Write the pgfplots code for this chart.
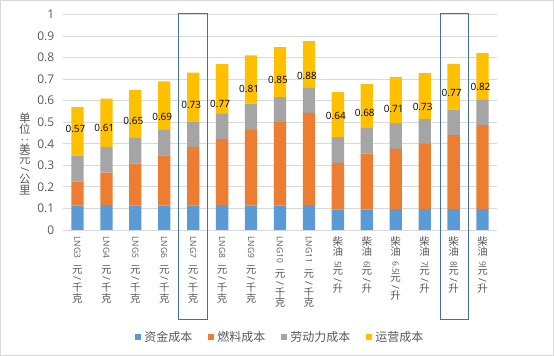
\documentclass[border=0pt]{standalone}
\usepackage{pgfplots}
\pgfplotsset{compat=1.18}
\usepackage{pgfplotstable}
\usepackage{graphicx}
\usepackage{fontspec}
\setmainfont{Open Sans}
\newfontfamily\cjk{Noto Sans CJK SC}
\definecolor{c1}{HTML}{5B9BD5}
\definecolor{c2}{HTML}{ED7D31}
\definecolor{c3}{HTML}{A5A5A5}
\definecolor{c4}{HTML}{FFC000}
\definecolor{gridc}{HTML}{D9D9D9}
\definecolor{txt}{HTML}{595959}
\definecolor{boxc}{HTML}{41719C}

\newcommand\vstack[1]{\vbox{\offinterlineskip\halign{\hfil##\hfil\cr#1\crcr}}}
\newcommand\zi[1]{\rule[-0.15em]{0pt}{0.87em}{\cjk #1}}
\newcommand\zj[1]{\rule[-0.17em]{0pt}{0.88em}{\cjk #1}}
\newcommand\rl[1]{\rotatebox{-90}{#1}}
\newcommand\rslash{\rotatebox{-90}{\hbox to 0.75em{\hss/\hss}}}
\newcommand\lat{\fontsize{8.5bp}{10bp}\selectfont}
\newcommand\lng[1]{{\fontsize{10.5bp}{12bp}\selectfont\vstack{\rl{\lat LNG#1\kern7bp}\cr\zj{元}\cr\rslash\cr\zj{千}\cr\zj{克}\cr}}}
\newcommand\cy[1]{{\fontsize{10.5bp}{12bp}\selectfont\vstack{\zj{柴}\cr\zj{油}\cr\rl{\lat\kern4bp #1}\cr\zj{元}\cr\rslash\cr\zj{升}\cr}}}

\pgfplotstableread{
x cap fuel labor ops
0 0.113 0.111 0.121 0.225
1 0.116 0.150 0.120 0.224
2 0.113 0.195 0.120 0.222
3 0.113 0.233 0.119 0.225
4 0.113 0.273 0.115 0.229
5 0.116 0.306 0.117 0.231
6 0.113 0.352 0.121 0.224
7 0.113 0.388 0.116 0.232
8 0.116 0.427 0.117 0.216
9 0.094 0.217 0.120 0.209
10 0.094 0.260 0.120 0.203
11 0.097 0.279 0.120 0.213
12 0.097 0.303 0.115 0.213
13 0.097 0.343 0.118 0.213
14 0.097 0.390 0.117 0.217
}\costdata

\pgfplotstableread{
x y lab
0 0.467 0.57
1 0.474 0.61
2 0.504 0.65
3 0.526 0.69
4 0.578 0.73
5 0.587 0.77
6 0.655 0.81
7 0.694 0.85
8 0.713 0.88
9 0.527 0.64
10 0.541 0.68
11 0.560 0.71
12 0.572 0.73
13 0.638 0.77
14 0.666 0.82
}\labdata

\begin{document}
\begin{tikzpicture}
\useasboundingbox (0,0) rectangle (554bp,356bp);
\draw[gridc, line width=0.8bp] (0.5bp,0.5bp) rectangle (553.5bp,355.5bp);
\begin{axis}[
  at={(63bp,126bp)}, anchor=south west,
  width=434bp, height=215.5bp, scale only axis,
  ybar stacked, bar width=12.3bp,
  xmin=-0.5, xmax=14.5, ymin=0, ymax=1,
  ytick={0,0.1,0.2,0.3,0.4,0.5,0.6,0.7,0.8,0.9,1},
  ymajorgrids, grid style={gridc, line width=0.8bp},
  axis x line*=bottom, axis y line*=left,
  y axis line style={draw=none},
  x axis line style={gridc, line width=0.8bp, -},
  tick style={draw=none}, major tick length=0pt,
  xtick={0,1,2,3,4,5,6,7,8,9,10,11,12,13,14},
  xticklabels={\lng{3},\lng{4},\lng{5},\lng{6},\lng{7},\lng{8},\lng{9},\lng{10},\lng{11},\cy{5},\cy{6},\cy{6.5},\cy{7},\cy{8},\cy{9}},
  xticklabel style={anchor=north, inner sep=0pt, yshift=-6bp, text=txt},
  yticklabel style={anchor=east, inner sep=0pt, xshift=-8.5bp, text=txt, font=\fontsize{12bp}{14bp}\selectfont},
  /pgf/number format/assume math mode=true,
  /pgf/number format/fixed,
  ylabel={\fontsize{11.5bp}{13bp}\selectfont\vstack{\zi{单}\cr\zi{位}\cr\rl{\hbox to 0.7em{\hss:\hss}}\cr\zi{美}\cr\zi{元}\cr\rslash\cr\zi{公}\cr\zi{里}\cr}},
  every axis y label/.style={at={(axis description cs:-0.0876,0.35)}, anchor=center, inner sep=0pt, text=txt},
  clip=false,
  legend columns=4,
  legend image code/.code={\fill[#1] (11bp,-3bp) rectangle (17bp,3bp);},
  legend style={at={(axis description cs:0.501,-0.4965)}, anchor=center, draw=none, fill=none,
    font=\cjk\fontsize{12bp}{14bp}\selectfont, text=txt, inner sep=0pt,
    column sep=0pt,
    /tikz/every odd column/.append style={column sep=1bp},
    /tikz/every even column/.append style={column sep=13bp},
    nodes={inner sep=0pt, inner xsep=2.5bp}},
]
\addplot[fill=c1, draw=none] table[x=x, y=cap] {\costdata};
\addplot[fill=c2, draw=none] table[x=x, y=fuel] {\costdata};
\addplot[fill=c3, draw=none] table[x=x, y=labor] {\costdata};
\addplot[fill=c4, draw=none] table[x=x, y=ops] {\costdata};
\legend{资金成本,燃料成本,劳动力成本,运营成本}
\draw[boxc, line width=1bp] (axis cs:3.5,1.006) rectangle ([yshift=-89bp]axis cs:4.5,0);
\draw[boxc, line width=1bp] (axis cs:12.55,1.006) rectangle ([yshift=-89bp]axis cs:13.52,0);
\end{axis}
\begin{axis}[
  at={(63bp,126bp)}, anchor=south west,
  width=434bp, height=215.5bp, scale only axis,
  xmin=-0.5, xmax=14.5, ymin=0, ymax=1,
  hide axis, clip=false,
]
\addplot[only marks, mark=*, mark size=0pt, mark options={draw=none, fill=none},
  nodes near coords, point meta=explicit symbolic, nodes near coords align={center},
  every node near coord/.append style={anchor=center, xshift=-2bp, inner sep=0pt, text=black, font=\fontsize{10bp}{12bp}\selectfont}]
  table[x=x, y=y, meta=lab] {\labdata};
\end{axis}
\end{tikzpicture}
\end{document}
